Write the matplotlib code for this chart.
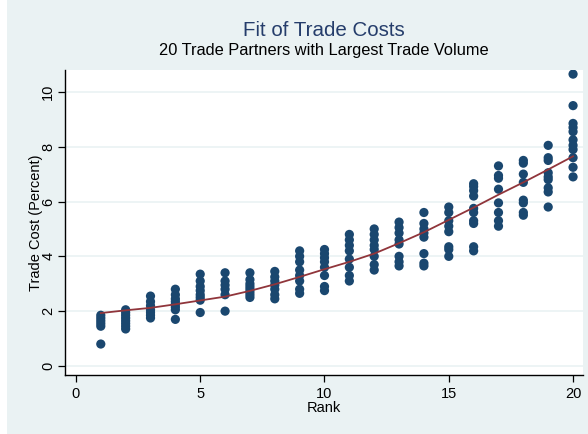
import numpy as np
import matplotlib
matplotlib.use("Agg")
import matplotlib.pyplot as plt
from matplotlib.patches import Rectangle

plt.rcParams["font.family"] = ["Liberation Sans", "DejaVu Sans"]

# trade cost observations by partner rank
cost_by_rank = {
    1: [1.85, 1.75, 1.65, 1.55, 1.45, 0.8],
    2: [2.05, 1.95, 1.85, 1.75, 1.65, 1.55, 1.45, 1.35],
    3: [2.55, 2.35, 2.2, 2.05, 1.95, 1.85, 1.75],
    4: [2.8, 2.6, 2.45, 2.35, 2.25, 2.15, 2.05, 1.7],
    5: [3.35, 3.1, 2.9, 2.75, 2.6, 2.5, 2.4, 1.95],
    6: [3.4, 3.1, 2.95, 2.8, 2.6, 2.0],
    7: [3.4, 3.15, 3.0, 2.9, 2.8, 2.7, 2.6, 2.5],
    8: [3.45, 3.25, 3.1, 2.95, 2.8, 2.6, 2.45],
    9: [4.2, 4.0, 3.8, 3.5, 3.3, 3.1, 2.8, 2.65],
    10: [4.25, 4.1, 3.95, 3.8, 3.6, 3.3, 2.9, 2.75],
    11: [4.8, 4.6, 4.4, 4.2, 3.9, 3.6, 3.3, 3.1],
    12: [5.0, 4.8, 4.6, 4.4, 4.25, 4.0, 3.7, 3.5],
    13: [5.25, 5.05, 4.85, 4.6, 4.45, 4.0, 3.8, 3.65],
    14: [5.6, 5.2, 5.0, 4.85, 4.7, 4.1, 3.75, 3.65],
    15: [5.8, 5.6, 5.3, 5.1, 4.9, 4.35, 4.25, 4.0],
    16: [6.65, 6.55, 6.4, 6.2, 5.75, 5.6, 5.3, 5.2, 4.35, 4.2],
    17: [7.3, 6.95, 6.85, 6.45, 5.95, 5.6, 5.3, 5.1],
    18: [7.5, 7.4, 7.0, 6.7, 6.05, 5.95, 5.6, 5.5],
    19: [8.05, 7.6, 7.5, 7.05, 6.9, 6.8, 6.5, 6.35, 5.8],
    20: [10.65, 9.5, 8.85, 8.7, 8.55, 8.25, 8.05, 7.9, 7.6, 7.25, 6.9],
}

# fitted values
fit_rank = list(range(1, 21))
fit_cost = [1.93, 2.03, 2.12, 2.25, 2.39, 2.53, 2.74, 2.98, 3.25, 3.53,
            3.8, 4.1, 4.48, 4.88, 5.33, 5.78, 6.25, 6.7, 7.17, 7.65]

x_ticks = [0, 5, 10, 15, 20]
y_ticks = [0, 2, 4, 6, 8, 10]

bg = "#eaf2f3"
navy = "#1a476f"
maroon = "#90353b"

fig = plt.figure(figsize=(5.88, 4.34), dpi=100, facecolor=bg)
# thin white strip at the left edge
fig.patches.append(Rectangle((0, 0), 7 / 588, 1, transform=fig.transFigure,
                             facecolor="white", edgecolor="none", zorder=-5))

ax = fig.add_axes([65 / 588, 59 / 434, 518 / 588, 305 / 434])
ax.set_facecolor("white")

rx = []
ry = []
for r, vals in cost_by_rank.items():
    rx += [r] * len(vals)
    ry += vals
ax.scatter(rx, ry, s=44, color=navy, edgecolors="none", zorder=3)
ax.plot(fit_rank, fit_cost, color=maroon, lw=1.3, zorder=4)

ax.set_xlim(-0.44, 20.4)
ax.set_ylim(-0.33, 10.8)
ax.set_xticks(x_ticks)
ax.set_yticks(y_ticks)
ax.yaxis.grid(True, color=bg, lw=1.2)
ax.set_axisbelow(True)
for s in ["top", "right"]:
    ax.spines[s].set_visible(False)
ax.spines["left"].set_linewidth(1.0)
ax.spines["bottom"].set_linewidth(1.0)
ax.tick_params(direction="out", length=5, width=0.9, labelsize=10.5)
ax.tick_params(axis="y", pad=2)
for lbl in ax.get_yticklabels():
    lbl.set_rotation(90)
    lbl.set_va("center")

ax.set_xlabel("Rank", fontsize=10.5, labelpad=0)
ax.set_ylabel("Trade Cost (Percent)", fontsize=10.5, labelpad=-1)

fig.text(324 / 588, 1 - 30 / 434, "Fit of Trade Costs", ha="center", va="center",
         fontsize=14.8, color="#253d6b")
fig.text(324 / 588, 1 - 50 / 434, "20 Trade Partners with Largest Trade Volume",
         ha="center", va="center", fontsize=11.8, color="black")

fig.savefig("out.png", dpi=100, facecolor=fig.get_facecolor())
